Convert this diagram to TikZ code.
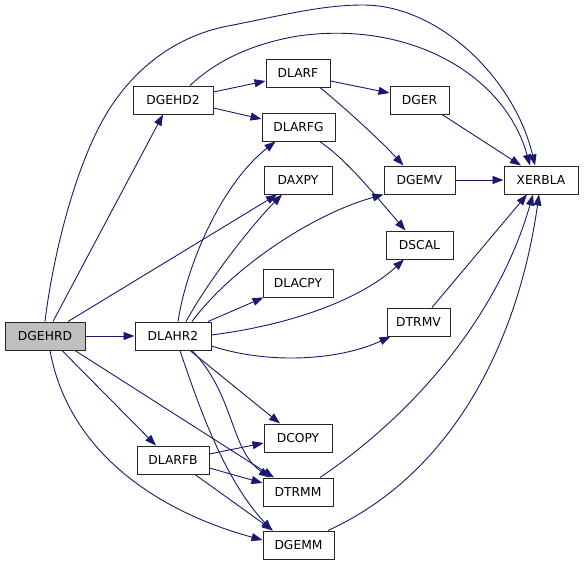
\documentclass[tikz,border=0pt]{standalone}
\usepackage{fontspec}
\setmainfont{DejaVu Sans}
\usetikzlibrary{arrows.meta,calc}
\definecolor{edgeblue}{HTML}{191970}
\definecolor{rootgray}{HTML}{BFBFBF}
\begin{document}
\begin{tikzpicture}[x=1pt,y=-1pt,
  box/.style={draw=black!85, line width=1pt, rectangle, minimum height=28pt, inner sep=0pt, fill=white, font=\fontsize{12.3}{14}\selectfont},
  edge/.style={draw=edgeblue, line width=0.9pt, -{Triangle[length=11pt,width=8pt]}, edgeblue}]
\fill[white] (0,0) rectangle (584,566);
\useasboundingbox (0,0) rectangle (584,566);
% nodes
\node[box, fill=rootgray, minimum width=80pt] (dgehrd) at (45,336) {DGEHRD};
\node[box, minimum width=76pt] (dlahr2) at (173,336) {DLAHR2};
\node[box, minimum width=80pt] (dgehd2) at (173,100) {DGEHD2};
\node[box, minimum width=72pt] (dlarfb) at (173,460) {DLARFB};
\node[box, minimum width=64pt] (dlarf) at (298,73) {DLARF};
\node[box, minimum width=73pt] (dlarfg) at (298.5,127) {DLARFG};
\node[box, minimum width=68pt] (daxpy) at (298,180) {DAXPY};
\node[box, minimum width=70pt] (dlacpy) at (298,283) {DLACPY};
\node[box, minimum width=68pt] (dcopy) at (298,438) {DCOPY};
\node[box, minimum width=70pt] (dtrmm) at (298,492) {DTRMM};
\node[box, minimum width=71pt] (dgemm) at (298.5,545) {DGEMM};
\node[box, minimum width=59pt] (dger) at (419.5,100) {DGER};
\node[box, minimum width=71pt] (dgemv) at (419.5,180) {DGEMV};
\node[box, minimum width=67pt] (dscal) at (419.5,245) {DSCAL};
\node[box, minimum width=63pt] (dtrmv) at (418.5,322) {DTRMV};
\node[box, minimum width=74pt] (xerbla) at (541,180) {XERBLA};
% edges from DGEHRD
\draw[edge] (dgehrd.east) -- (dlahr2.west);
\draw[edge] ($(dgehrd.north)+(8,0)$) -- ($(dgehd2.south)+(-10,0)$);
\draw[edge] (dgehrd.north) .. controls (52,262) and (75,160) .. (112,105)
  .. controls (130,78) and (165,40) .. (223,27)
  .. controls (280,16) and (320,5) .. (363,5)
  .. controls (440,5) and (515,80) .. ($(xerbla.north)+(-6,0)$);
\draw[edge] ($(dgehrd.north)+(23,0)$) -- ($(daxpy.south)+(-21,0)$);
\draw[edge] ($(dgehrd.south)+(17,0)$) -- ($(dlarfb.north)+(-17,0)$);
\draw[edge] ($(dgehrd.south)+(30,0)$) -- ($(dtrmm.north)+(-24,0)$);
\draw[edge] ($(dgehrd.south)+(5,0)$) .. controls (70,460) and (170,515) .. ($(dgemm.west)+(0,-5)$);
% edges from DGEHD2
\draw[edge] ($(dgehd2.east)+(0,-8)$) -- ($(dlarf.west)+(0,8)$);
\draw[edge] ($(dgehd2.east)+(0,8)$) -- ($(dlarfg.west)+(0,-8)$);
\draw[edge] ($(dgehd2.north)+(17,0)$) .. controls (215,62) and (250,44) .. (298,36)
  .. controls (410,20) and (505,75) .. ($(xerbla.north)+(-11,0)$);
% edges from DLARF, DLARFG
\draw[edge] ($(dlarf.east)+(0,8)$) -- ($(dger.west)+(0,-7)$);
\draw[edge] ($(dlarf.south)+(22,0)$) .. controls (345,108) and (380,140) .. ($(dgemv.north)+(-16,0)$);
\draw[edge] ($(dlarfg.south)+(21,0)$) .. controls (345,158) and (375,195) .. ($(dscal.north)+(-14,0)$);
% edges from DLAHR2
\draw[edge] ($(dlahr2.north)+(5,0)$) .. controls (186,268) and (220,185) .. ($(dlarfg.south)+(-23,0)$);
\draw[edge] ($(dlahr2.north)+(13,0)$) .. controls (210,278) and (252,225) .. ($(daxpy.south)+(-16,0)$);
\draw[edge] ($(dlahr2.north)+(19,0)$) .. controls (230,270) and (310,215) .. (dgemv.south west);
\draw[edge] ($(dlahr2.north)+(35,0)$) -- ($(dlacpy.south west)+(1,0)$);
\draw[edge] ($(dlahr2.east)+(0,-1)$) .. controls (290,325) and (360,300) .. ($(dscal.south)+(-15.5,0)$);
\draw[edge] ($(dlahr2.east)+(0,10)$) .. controls (270,365) and (340,360) .. ($(dtrmv.south west)+(4,0)$);
\draw[edge] ($(dlahr2.south)+(17,0)$) -- ($(dcopy.north)+(-18,0)$);
\draw[edge] ($(dlahr2.south)+(19,0)$) .. controls (235,395) and (230,450) .. ($(dtrmm.north)+(-28,0)$);
\draw[edge] ($(dlahr2.south)+(7,0)$) .. controls (200,410) and (225,480) .. ($(dgemm.north)+(-26.5,0)$);
% edges from DLARFB
\draw[edge] ($(dlarfb.east)+(0,-6)$) -- ($(dcopy.west)+(0,5)$);
\draw[edge] ($(dlarfb.east)+(0,8)$) -- ($(dtrmm.west)+(0,-9)$);
\draw[edge] ($(dlarfb.south)+(22,0)$) -- ($(dgemm.north)+(-25.5,0)$);
% edges to XERBLA
\draw[edge] ($(dger.south)+(22.5,0)$) -- ($(xerbla.north)+(-20,0)$);
\draw[edge] (dgemv.east) -- (xerbla.west);
\draw[edge] ($(dtrmv.north)+(13.5,0)$) -- ($(xerbla.south)+(-14,0)$);
\draw[edge] ($(dtrmm.north)+(22,0)$) .. controls (420,410) and (500,310) .. ($(xerbla.south)+(-8,0)$);
\draw[edge] ($(dgemm.north)+(29.5,0)$) .. controls (460,470) and (520,330) .. ($(xerbla.south)+(-2,0)$);
\end{tikzpicture}
\end{document}
